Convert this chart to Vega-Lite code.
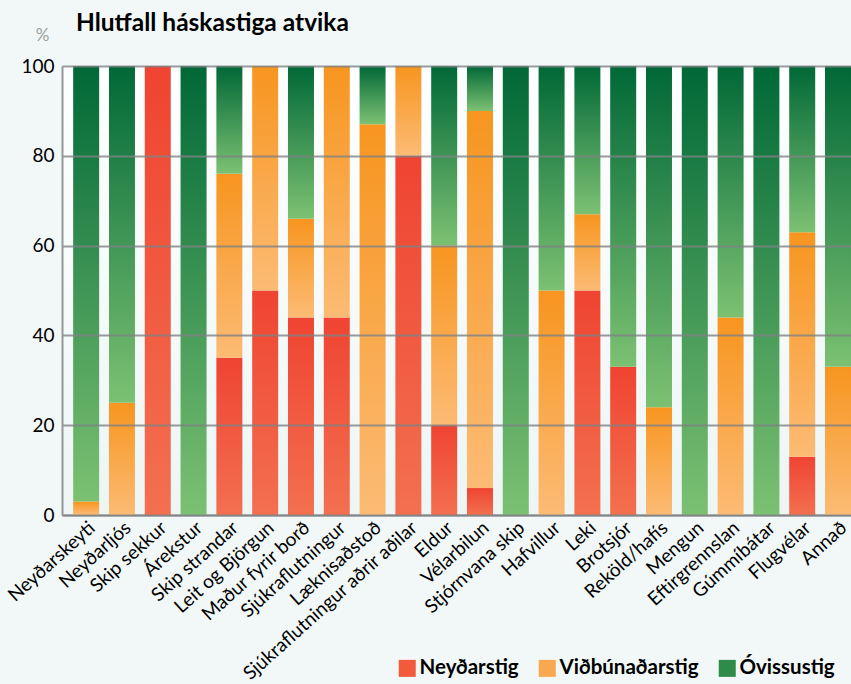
{
  "$schema": "https://vega.github.io/schema/vega-lite/v6.json",
  "width": 789,
  "height": 449,
  "autosize": {"type": "none"},
  "padding": {"left": 62, "top": 66, "right": 0, "bottom": 169},
  "background": "#F1F8F7",
  "title": {
    "text": "Hlutfall háskastiga atvika",
    "anchor": "start",
    "frame": "group",
    "dx": 14,
    "dy": 23,
    "offset": -11,
    "baseline": "bottom",
    "font": "Lato",
    "fontSize": 24.5,
    "fontWeight": "bold",
    "color": "#000000"
  },
  "data": {
    "values": [
      {"atvik": "Neyðarskeyti", "stig": "Viðbúnaðarstig", "hlutfall": 3},
      {"atvik": "Neyðarskeyti", "stig": "Óvissustig", "hlutfall": 97},
      {"atvik": "Neyðarljós", "stig": "Viðbúnaðarstig", "hlutfall": 25},
      {"atvik": "Neyðarljós", "stig": "Óvissustig", "hlutfall": 75},
      {"atvik": "Skip sekkur", "stig": "Neyðarstig", "hlutfall": 100},
      {"atvik": "Árekstur", "stig": "Óvissustig", "hlutfall": 100},
      {"atvik": "Skip strandar", "stig": "Neyðarstig", "hlutfall": 35},
      {"atvik": "Skip strandar", "stig": "Viðbúnaðarstig", "hlutfall": 41},
      {"atvik": "Skip strandar", "stig": "Óvissustig", "hlutfall": 24},
      {"atvik": "Leit og Björgun", "stig": "Neyðarstig", "hlutfall": 50},
      {"atvik": "Leit og Björgun", "stig": "Viðbúnaðarstig", "hlutfall": 50},
      {"atvik": "Maður fyrir borð", "stig": "Neyðarstig", "hlutfall": 44},
      {"atvik": "Maður fyrir borð", "stig": "Viðbúnaðarstig", "hlutfall": 22},
      {"atvik": "Maður fyrir borð", "stig": "Óvissustig", "hlutfall": 34},
      {"atvik": "Sjúkraflutningur", "stig": "Neyðarstig", "hlutfall": 44},
      {"atvik": "Sjúkraflutningur", "stig": "Viðbúnaðarstig", "hlutfall": 56},
      {"atvik": "Læknisaðstoð", "stig": "Viðbúnaðarstig", "hlutfall": 87},
      {"atvik": "Læknisaðstoð", "stig": "Óvissustig", "hlutfall": 13},
      {"atvik": "Sjúkraflutningur aðrir aðilar", "stig": "Neyðarstig", "hlutfall": 80},
      {"atvik": "Sjúkraflutningur aðrir aðilar", "stig": "Viðbúnaðarstig", "hlutfall": 20},
      {"atvik": "Eldur", "stig": "Neyðarstig", "hlutfall": 20},
      {"atvik": "Eldur", "stig": "Viðbúnaðarstig", "hlutfall": 40},
      {"atvik": "Eldur", "stig": "Óvissustig", "hlutfall": 40},
      {"atvik": "Vélarbilun", "stig": "Neyðarstig", "hlutfall": 6},
      {"atvik": "Vélarbilun", "stig": "Viðbúnaðarstig", "hlutfall": 84},
      {"atvik": "Vélarbilun", "stig": "Óvissustig", "hlutfall": 10},
      {"atvik": "Stjórnvana skip", "stig": "Óvissustig", "hlutfall": 100},
      {"atvik": "Hafvillur", "stig": "Viðbúnaðarstig", "hlutfall": 50},
      {"atvik": "Hafvillur", "stig": "Óvissustig", "hlutfall": 50},
      {"atvik": "Leki", "stig": "Neyðarstig", "hlutfall": 50},
      {"atvik": "Leki", "stig": "Viðbúnaðarstig", "hlutfall": 17},
      {"atvik": "Leki", "stig": "Óvissustig", "hlutfall": 33},
      {"atvik": "Brotsjór", "stig": "Neyðarstig", "hlutfall": 33},
      {"atvik": "Brotsjór", "stig": "Óvissustig", "hlutfall": 67},
      {"atvik": "Reköld/hafís", "stig": "Viðbúnaðarstig", "hlutfall": 24},
      {"atvik": "Reköld/hafís", "stig": "Óvissustig", "hlutfall": 76},
      {"atvik": "Mengun", "stig": "Óvissustig", "hlutfall": 100},
      {"atvik": "Eftirgrennslan", "stig": "Viðbúnaðarstig", "hlutfall": 44},
      {"atvik": "Eftirgrennslan", "stig": "Óvissustig", "hlutfall": 56},
      {"atvik": "Gúmmíbátar", "stig": "Óvissustig", "hlutfall": 100},
      {"atvik": "Flugvélar", "stig": "Neyðarstig", "hlutfall": 13},
      {"atvik": "Flugvélar", "stig": "Viðbúnaðarstig", "hlutfall": 50},
      {"atvik": "Flugvélar", "stig": "Óvissustig", "hlutfall": 37},
      {"atvik": "Annað", "stig": "Viðbúnaðarstig", "hlutfall": 33},
      {"atvik": "Annað", "stig": "Óvissustig", "hlutfall": 67}
    ]
  },
  "encoding": {
    "x": {
      "field": "atvik",
      "type": "nominal",
      "sort": null,
      "scale": {"paddingInner": 0.274, "paddingOuter": 0.156, "align": 1},
      "axis": {
        "title": null,
        "labelAngle": -42,
        "labelFont": "Lato",
        "labelFontSize": 19,
        "labelLimit": 400,
        "labelColor": "#000000",
        "labelPadding": 3,
        "ticks": false,
        "domainColor": "#939598",
        "domainWidth": 2,
        "grid": false
      }
    },
    "y": {
      "field": "hlutfall",
      "type": "quantitative",
      "stack": "zero",
      "scale": {"domain": [0, 100], "nice": false},
      "axis": {
        "title": "%",
        "titleAngle": 0,
        "titleX": -20,
        "titleY": -31,
        "titleAlign": "center",
        "titleBaseline": "middle",
        "titleFont": "Lato",
        "titleFontSize": 17,
        "titleFontWeight": "normal",
        "titleColor": "#9D9D9D",
        "values": [0, 20, 40, 60, 80, 100],
        "labelFont": "Lato",
        "labelFontSize": 19,
        "labelColor": "#000000",
        "labelPadding": 8,
        "ticks": false,
        "domainColor": "#939598",
        "domainWidth": 2,
        "gridColor": "#808284",
        "gridWidth": 2,
        "gridOpacity": 0.8,
        "zindex": 1
      }
    }
  },
  "layer": [
    {
      "mark": {"type": "bar", "strokeWidth": 0},
      "encoding": {
        "fill": {
          "condition": [
            {"test": "datum.stig === 'Neyðarstig'", "value": {"gradient": "linear", "x1": 0, "y1": 0, "x2": 0, "y2": 1, "stops": [{"offset": 0, "color": "#EF4431"}, {"offset": 1, "color": "#F3704F"}]}},
            {"test": "datum.stig === 'Viðbúnaðarstig'", "value": {"gradient": "linear", "x1": 0, "y1": 0, "x2": 0, "y2": 1, "stops": [{"offset": 0, "color": "#F7951F"}, {"offset": 1, "color": "#FCBB74"}]}}
          ],
          "value": {"gradient": "linear", "x1": 0, "y1": 0, "x2": 0, "y2": 1, "stops": [{"offset": 0, "color": "#006837"}, {"offset": 1, "color": "#7CC172"}]}
        }
      }
    },
    {
      "mark": {"type": "bar", "opacity": 0},
      "encoding": {
        "color": {
          "field": "stig",
          "type": "nominal",
          "scale": {
            "domain": ["Neyðarstig", "Viðbúnaðarstig", "Óvissustig"],
            "range": ["#F15A3A", "#FAA850", "#2E8B4A"]
          },
          "legend": {
            "title": null,
            "orient": "none",
            "legendX": 335,
            "legendY": 592,
            "direction": "horizontal",
            "symbolType": "square",
            "symbolSize": 289,
            "symbolStrokeWidth": 0,
            "symbolOpacity": 1,
            "labelFont": "Lato",
            "labelFontSize": 20.5,
            "labelFontWeight": "bold",
            "labelColor": "#000000",
            "labelOffset": 2,
            "columnPadding": 18
          }
        }
      }
    }
  ],
  "config": {
    "view": {"stroke": null, "fill": {"gradient": "linear", "x1": 0, "y1": 0, "x2": 0, "y2": 1, "stops": [{"offset": 0, "color": "#FFFFFF"}, {"offset": 1, "color": "#EDF6F5"}]}}
  }
}
